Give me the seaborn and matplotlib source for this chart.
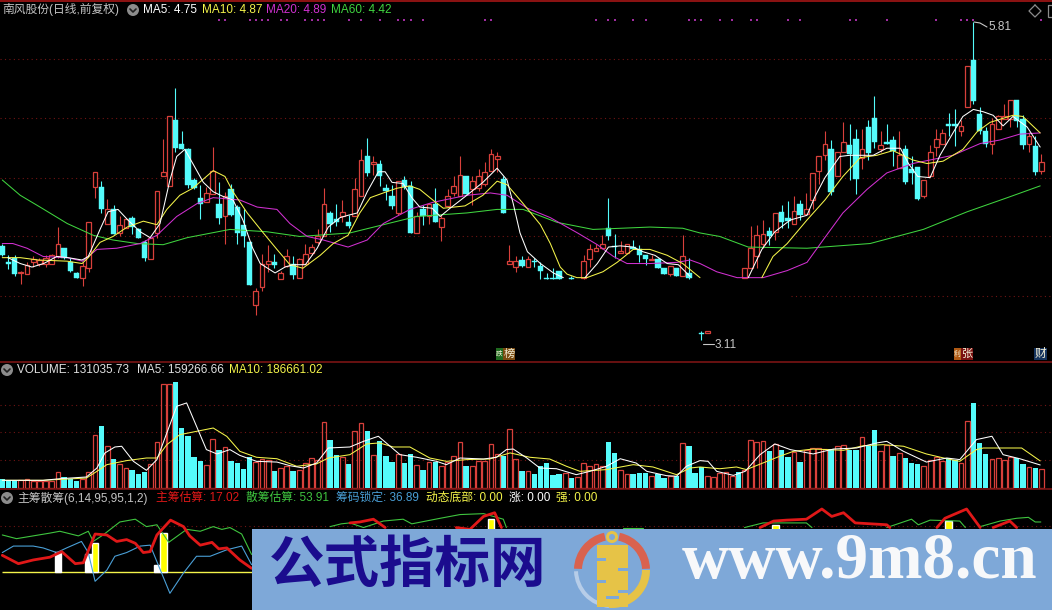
import numpy as np
import pandas as pd
import matplotlib
matplotlib.use("Agg")
import matplotlib.pyplot as plt
from matplotlib.patches import Rectangle, Wedge, Circle
import seaborn as sns

nan = float("nan")
# ---------- daily candles (prices) ----------
opens = [3.91,3.77,3.81,3.68,3.67,3.77,3.76,3.76,3.76,3.82,3.89,3.77,3.68,3.64,3.72,4.41,4.41,4.10,4.22,4.02,
 4.06,4.15,4.05,3.94,3.80,4.02,4.50,4.42,4.98,4.78,4.73,4.47,4.32,4.28,4.35,4.27,4.16,4.39,4.24,4.09,
 3.94,3.41,3.56,3.76,3.77,3.63,3.74,3.76,3.64,3.76,3.85,3.94,3.99,4.19,4.14,4.16,4.11,4.16,4.33,4.67,
 4.61,4.61,4.40,4.33,4.19,4.47,4.42,4.02,4.22,4.16,4.27,4.07,4.25,4.36,4.33,4.50,4.39,4.40,4.44,4.55,
 4.65,4.48,3.76,3.73,3.79,3.73,3.78,3.74,3.64,3.64,3.70,nan,3.64,nan,3.64,3.80,3.87,3.89,4.06,3.91,
 3.85,3.85,3.90,3.88,3.83,3.79,3.80,3.72,3.67,3.72,3.65,3.68,nan,3.17,3.17,nan,nan,nan,nan,nan,
 3.64,3.72,3.82,3.93,4.04,4.03,4.20,4.15,4.10,4.27,4.18,4.30,4.55,4.68,4.73,4.50,4.71,4.77,4.82,4.66,
 4.92,5.00,4.73,4.79,4.81,4.57,4.73,4.56,4.58,4.33,4.50,4.75,4.78,4.95,4.95,4.89,5.09,5.49,5.03,4.89,
 4.78,4.90,4.99,4.99,5.15,4.99,4.78,4.76,4.55]
closes = [3.83,3.76,3.67,3.69,3.75,3.80,3.79,3.81,3.83,3.93,3.81,3.70,3.64,3.74,4.11,4.54,4.22,4.22,4.01,4.09,
 4.14,4.07,3.98,3.81,3.98,4.38,4.54,5.01,4.74,4.73,4.43,4.40,4.27,4.36,4.55,4.15,4.33,4.17,4.02,3.99,
 3.58,3.53,3.76,3.78,3.75,3.68,3.82,3.66,3.80,3.84,3.90,3.99,4.27,4.10,4.11,4.20,4.08,4.39,4.64,4.53,
 4.62,4.50,4.38,4.25,4.46,4.41,4.02,4.16,4.16,4.27,4.11,4.15,4.33,4.42,4.51,4.35,4.46,4.50,4.54,4.69,
 4.67,4.19,3.78,3.78,3.74,3.80,3.77,3.70,3.63,3.63,3.63,nan,3.63,nan,3.78,3.88,3.89,3.93,3.99,3.90,
 3.87,3.93,3.88,3.83,3.80,3.80,3.72,3.67,3.74,3.65,3.82,3.64,nan,3.16,3.19,nan,nan,nan,nan,nan,
 3.72,3.89,4.00,4.01,3.99,4.19,4.11,4.12,4.21,4.17,4.22,4.53,4.67,4.78,4.37,4.71,4.79,4.69,4.48,4.73,
 4.70,4.79,4.77,4.78,4.72,4.68,4.45,4.53,4.31,4.47,4.71,4.82,4.87,4.93,4.93,4.93,5.44,5.14,4.89,4.78,
 4.95,5.01,5.01,5.15,4.97,4.77,4.84,4.54,4.62]
highs = [3.93,3.83,3.83,3.70,3.77,3.82,3.81,3.83,3.84,4.07,3.89,3.81,3.69,3.77,4.11,4.54,4.46,4.31,4.26,4.16,
 4.15,4.16,4.06,3.96,3.98,4.38,4.82,5.01,5.25,4.89,4.74,4.49,4.43,4.41,4.75,4.45,4.37,4.44,4.26,4.22,
 3.94,3.55,3.84,3.92,3.84,3.70,3.88,3.82,3.81,3.93,3.93,4.05,4.40,4.21,4.27,4.30,4.17,4.49,4.73,4.83,
 4.67,4.64,4.44,4.43,4.46,4.50,4.46,4.20,4.26,4.27,4.40,4.17,4.39,4.50,4.67,4.50,4.50,4.56,4.62,4.73,
 4.71,4.50,3.92,3.82,3.82,3.82,3.81,3.77,3.68,3.72,3.70,nan,3.65,nan,3.83,3.93,3.93,4.00,4.32,4.01,
 3.95,3.93,3.96,3.92,3.83,3.83,3.81,3.72,3.74,3.72,4.00,3.81,nan,3.19,3.19,nan,nan,nan,nan,nan,
 3.72,4.08,4.09,4.13,4.07,4.19,4.26,4.29,4.33,4.30,4.36,4.53,4.67,4.89,4.81,4.71,4.96,4.95,4.90,4.90,
 4.98,5.18,4.89,4.95,4.84,4.89,4.77,4.67,4.58,4.47,4.77,4.90,4.90,5.04,5.07,4.98,5.44,5.81,5.09,4.92,
 5.00,5.02,5.12,5.15,5.15,5.02,4.88,4.84,4.69]
lows = [3.82,3.71,3.65,3.59,3.67,3.73,3.74,3.73,3.76,3.81,3.80,3.69,3.64,3.57,3.69,4.32,4.19,4.10,4.01,3.99,
 4.06,4.01,3.98,3.78,3.80,3.98,4.50,4.42,4.71,4.73,4.40,4.39,4.14,4.28,4.35,4.10,3.93,4.16,3.93,3.90,
 3.58,3.32,3.53,3.69,3.72,3.63,3.73,3.63,3.64,3.76,3.83,3.93,3.99,4.03,4.08,4.11,4.06,4.16,4.33,4.50,
 4.51,4.42,4.30,4.22,4.17,4.39,4.02,4.02,4.09,4.10,4.11,3.95,4.24,4.33,4.33,4.35,4.26,4.38,4.42,4.55,
 4.54,4.19,3.76,3.69,3.73,3.73,3.73,3.63,3.63,3.63,3.63,nan,3.63,nan,3.63,3.73,3.87,3.88,3.96,3.81,
 3.85,3.85,3.88,3.77,3.75,3.79,3.72,3.67,3.65,3.65,3.65,3.63,nan,3.11,3.17,nan,nan,nan,nan,nan,
 3.64,3.72,3.72,3.89,3.92,3.96,4.06,4.06,4.10,4.13,4.18,4.22,4.44,4.64,4.34,4.50,4.71,4.47,4.35,4.56,
 4.64,4.74,4.71,4.78,4.59,4.57,4.44,4.44,4.30,4.32,4.50,4.67,4.78,4.84,4.76,4.84,5.09,5.12,4.86,4.75,
 4.69,4.90,4.99,4.92,4.92,4.73,4.71,4.51,4.52]

# ---------- price moving averages: bar position, value (nan = no visible line) ----------
ma5_x = [0.9,2.9,4.8,6.7,8.8,10.6,12.9,13.9,15.8,17.1,18.7,20.3,22.3,23.9,25.5,27.1,28.2,29.5,30.8,32.5,34.1,35.7,37.3,38.9,40.4,41.7,44.1,45.7,47,49,50.9,52.7,54.6,55.9,57.4,59,60.8,61.9,63,64.8,66.2,67.5,69.5,70.8,72.4,75.1,77.7,80,81.6,82.6,83.7,84.9,87,89.1,90.7,91,94.2,96.2,98,99.9,102,103.6,105.5,107.5,109.3,111.2,115,120.6,122.8,124.9,127.4,130.1,131.4,133,135.4,137,138.7,140.8,143,145.2,146.5,148,150,151.6,153.7,155.3,157,158.6,160.2,161.8,163.4,165.7,167.8]
ma5_y = [3.81,3.76,3.73,3.76,3.82,3.81,3.79,3.82,4.05,4.20,4.22,4.13,4.03,3.98,4.10,4.47,4.67,4.73,4.61,4.45,4.37,4.33,4.30,4.13,3.90,3.76,3.68,3.73,3.75,3.75,3.89,4.07,4.15,4.17,4.19,4.37,4.54,4.54,4.45,4.44,4.32,4.24,4.23,4.16,4.23,4.34,4.45,4.57,4.47,4.27,4.02,3.86,3.76,3.68,3.64,nan,3.64,3.76,3.90,3.91,3.90,3.86,3.83,3.76,3.75,3.65,nan,3.64,3.88,4.03,4.13,4.17,4.33,4.49,4.67,4.68,4.68,4.68,4.74,4.74,4.61,4.50,4.49,4.68,4.87,5.01,5.07,5.05,5.02,4.93,5.01,4.92,4.75]
ma10_x = [0,2.9,5.8,10.5,12.9,13.9,15.8,17.9,20.2,22.8,25,26.6,28.7,30.8,34.1,36,37.3,39.6,42.2,44.4,46.5,48.6,51.4,53.5,55.9,57.8,59.5,61.6,63.8,65.9,67.5,69.6,71.3,74.8,77.7,80,81.6,84.2,87,88.6,90.2,91.3,92.9,94.5,97.1,99.4,102,104.7,107.5,110,112.8,116,122.8,124.6,126.9,130.1,133,135.9,138.7,141.4,144,147.2,149.5,152.1,155.3,157.6,159.7,163.4,165,167.8]
ma10_y = [3.81,3.81,3.79,3.78,3.76,3.81,3.94,3.99,4.07,4.12,4.09,4.22,4.34,4.40,4.55,4.50,4.37,4.19,4.02,3.88,3.75,3.72,3.83,3.93,4.00,4.19,4.32,4.36,4.40,4.42,4.39,4.30,4.23,4.25,4.34,4.46,4.43,4.27,4.09,3.93,3.73,3.67,3.64,3.64,3.69,3.77,3.88,3.88,3.83,3.76,3.64,nan,3.64,3.82,3.93,4.13,4.30,4.50,4.66,4.68,4.72,4.64,4.61,4.63,4.73,4.88,4.96,5.02,5.01,4.87]
ma20_x = [0,1.7,4,6.6,10.5,13,15.3,18.5,22.3,25,28.2,31.5,34.1,38.4,41.2,44.4,46.5,49.3,51.9,55.9,59,61.6,65.9,69.6,75.1,78.9,81.6,84.9,88.6,93,96.2,98.8,101,104.7,109.1,111.2,112.8,115.5,118.8,123,126.9,130.1,132.7,135.9,139.8,143,147.2,153.7,158.1,161.3,164.5,167.8]
ma20_y = [3.93,3.93,3.89,3.82,3.81,3.78,3.88,3.89,3.93,4.00,4.16,4.27,4.32,4.30,4.24,4.22,4.10,3.99,3.96,3.90,3.96,4.10,4.22,4.28,4.34,4.36,4.34,4.23,4.15,4.02,3.92,3.82,3.76,3.76,3.77,3.79,3.76,3.69,3.64,3.64,3.70,3.77,3.96,4.19,4.39,4.53,4.61,4.68,4.78,4.81,4.86,4.87]
ma60_x = [0,2.9,6.1,10.5,14.7,17.9,21.8,26,29.9,36.8,42.8,48.1,56.2,61.6,67,75.1,80,84.2,89.7,95.5,104.7,110,112.8,116,120.6,130.1,140.3,148.9,156,162.5,167.8]
ma60_y = [4.47,4.34,4.24,4.10,4.00,3.96,3.93,3.92,3.98,4.05,4.03,3.99,4.02,4.09,4.16,4.19,4.22,4.22,4.11,4.05,4.07,4.06,4.02,3.99,3.90,3.89,3.93,4.05,4.20,4.32,4.42]
signal_bars = [35,36,40,41,42,43,45,46,49,50,51,52,56,58,61,64,65,66,68,78,79,96,98,99,102,104,111,112,113,116,118,121,122,127,129,137,138,143,151,155,156,157,168]
signal_level = 5.83
price_grid = [5.50,5.00,4.49,3.99]
price_grid_low = 3.48

# ---------- volume (thousands) ----------
volume = [62,57,57,57,62,46,46,46,50,110,76,62,50,64,110,366,430,288,202,166,
 138,126,99,110,166,317,718,718,734,414,356,214,184,159,338,264,283,189,172,133,
 214,177,200,196,120,138,150,120,126,172,207,196,455,334,230,214,168,396,449,396,
 230,327,223,182,237,175,237,159,126,177,182,154,177,221,317,154,154,189,189,304,
 235,219,407,200,120,117,97,150,175,92,99,104,71,76,172,150,166,154,320,242,
 124,97,97,106,104,85,97,71,85,81,310,292,106,145,83,76,104,108,85,110,
 126,331,317,324,258,304,264,216,248,182,264,276,276,269,269,288,297,260,260,352,
 292,402,255,297,223,242,209,175,168,154,196,212,189,207,196,172,465,589,310,237,
 200,207,193,212,207,168,145,138,131]
vol_side = ("CCCRRRRRRR" "CCCRRRCRCR" "RCCCRRRRCC" "CCCRRCRCCC" "CRRRCRRCRR" "RRRCCRCRRC"
            "RCCCRCCRCR" "CRRRRCRRRR" "RCRRCRCCCC" "CRCRRRRRCC" "RRCCCRCCRC" "RCCCRRRRRC"
            "RRRRCRCCRC" "RRRRCRRCCR" "CCRRCRCCCR" "RRRCCRRCCC" "RRRRCCRCR")
vol_ma5_x = [0,6.6,9.3,13.6,15.3,16.6,18.2,19.3,21.2,23.3,25,26.6,28.2,29.8,31.4,33,34.7,36.8,38.4,41.1,44.4,46.5,48.7,50.8,52.7,56.2,58.4,60.8,62.7,64.3,67,70.2,71.8,74,77.8,79.9,81.5,82.6,84.8,86.9,89.6,92.8,95,97.7,99.9,102.5,104.2,107.4,109,110.6,112.8,114.1,115.5,118.2,120.1,122.5,124.9,127.4,131.1,134.4,138.1,141.4,143,145.7,149.4,152.7,154.8,157.5,160,161.8,164.5,167.8]
vol_ma5_y = [53,53,64,76,138,242,283,288,184,122,196,380,564,587,426,265,235,265,225,184,179,154,138,172,276,283,322,357,288,230,212,184,161,207,200,212,265,269,207,138,133,92,115,150,202,172,115,85,81,150,189,184,115,87,115,230,304,265,235,269,276,311,322,253,179,207,196,334,357,230,202,159]
vol_ma10_x = [0,6.6,13.6,15.3,16.9,20.1,23.3,25,26.6,28.7,32,34.1,36.3,38.4,41.1,44.4,47.6,50.8,52.7,56.2,58.9,61,63.2,65.9,69.1,71.8,75.1,78.8,82.1,85.3,88.5,91.2,93.4,97.7,102,105.2,109,111.2,112.8,116,118.7,120.3,123,125.7,127.9,131.1,136,139.2,142.4,145.7,149.4,152.7,154.8,157.5,158.6,164.8,167.8]
vol_ma10_y = [53,53,69,115,161,189,207,207,299,368,396,414,356,253,212,202,150,166,207,230,304,311,283,283,207,184,196,200,242,212,200,150,115,127,161,145,92,138,145,133,145,127,173,219,253,269,260,292,299,288,235,202,184,265,276,276,187]
vol_grid = [573,386,193]

# ---------- chip indicator ----------
main_x = [0,2.6,5,7.7,9.6,11.8,13.1,15,16.9,18.5,20.1,21.5,22.8,23.9,25,27.2,29.3,30.3,32,33.9,35,36.3,38.4,40.3,45,56.2,57.8,60,61.9,70,73.4,75.6,77.8,79.6,80.7,100,122.5,124.7,126.8,130,132.5,134.1,136,137.9,143,143.5,148,151.1,152.4,155.9,158.1,159,160.2,162.9,164]
main_y = [18,9,13,16,22,9,10,41,40,33,35,31,21,22,40,56,49,39,29,32,25,26,13,4,nan,53,54,57,48,nan,48,46,60,64,48,nan,48,55,56,57,68,60,64,53,51,48,nan,48,58,68,48,nan,48,55,48]
float_x = [0,2.3,5,7.7,9.3,12.3,13.9,14.7,16.3,19,21.5,23.3,25,26.9,29.8,32,34.1,35.5,36.8,38.7,40.3,45,53,54.8,56.2,58.4,61.6,64.8,66.2,70.8,74,77.8,81,81.5,90,100.4,103.6,110,120,123,130,130.9,135,143,147,148.1,150,154.8,155.7,157,158.1,161.3,164,165.9,167,167.9]
float_y = [40,36,39,42,44,39,44,33,40,54,57,49,51,32,46,44,49,46,48,41,19,nan,49,52,53,48,55,57,52,58,62,63,57,48,nan,48,48,nan,48,53,53,48,nan,48,57,51,56,55,48,nan,49,55,58,59,54,54]
lock_x = [0,1.8,5,6.6,8.8,10.4,12.8,13.9,15,16.9,18.2,20.1,22.3,23.9,25.5,27.1,29.3,31.4,33.6,36.3,38.7,40.3]
lock_y = [21,28,28,26,21,26,33,21,-10,2,17,21,28,29,3,-23,-1,17,17,24,28,8]
white_bars_x = [9,14,25]
white_bars_y = [22,19,8]
yellow_bars_x = [15,26,79,125,153]
yellow_bars_y = [31,42,57,51,55]
chip_grid = [50]

RED, CYAN = "#d8403b", "#54fbfb"
GRID = "#701414"
W, H = 1052, 610
LAT = ["Liberation Sans", "Noto Sans CJK SC"]

sns.set_theme(style="dark", rc={"axes.facecolor": "black", "figure.facecolor": "black",
                                "savefig.facecolor": "black", "axes.grid": False})
plt.rcParams["font.family"] = LAT

fig = plt.figure(figsize=(W / 100, H / 100), dpi=100)

def pane(top, bottom, ylim):
    ax = fig.add_axes([0, 1 - bottom / H, 1, (bottom - top) / H])
    ax.set_facecolor("black")
    ax.set_axis_off()
    return ax, ylim

XLIM = (-0.372, 169.71)

def line(ax, xs, ys, color, lw=0.75, z=3):
    df = pd.DataFrame({"x": xs, "y": ys})
    df["seg"] = df["y"].isna().cumsum()
    for _, g in df.dropna().groupby("seg"):
        sns.lineplot(data=g, x="x", y="y", color=color, linewidth=lw, sort=False,
                     estimator=None, errorbar=None, legend=False, ax=ax, zorder=z)

# ------ price pane ------
ax1, yl1 = pane(2, 362, (2.923, 5.983))
for g in price_grid:
    ax1.hlines(g, *XLIM, color=GRID, lw=0.8, linestyles=(0, (1, 3)), zorder=1)
ax1.hlines(price_grid_low, XLIM[0], 42, color=GRID, lw=0.8, linestyles=(0, (1, 3)), zorder=1)
ax1.hlines(price_grid_low, 127.5, XLIM[1], color=GRID, lw=0.8, linestyles=(0, (1, 3)), zorder=1)
o, c, h, l = map(np.array, (opens, closes, highs, lows))
x = np.arange(len(o))
up = c >= o
top_, bot_ = np.maximum(o, c), np.minimum(o, c)
ax1.vlines(x[up], top_[up], h[up], color=RED, lw=0.8, zorder=2)
ax1.vlines(x[up], l[up], bot_[up], color=RED, lw=0.8, zorder=2)
dn = c < o
ax1.vlines(x[dn], l[dn], h[dn], color=CYAN, lw=0.8, zorder=2)
ax1.bar(x[up], (c - o)[up], bottom=o[up], width=0.78, facecolor="black", edgecolor=RED, linewidth=0.9, zorder=2.1)
ax1.bar(x[dn], (c - o)[dn], bottom=o[dn], width=0.88, facecolor=CYAN, edgecolor=CYAN, linewidth=0.3, zorder=2.1)
line(ax1, ma60_x, ma60_y, "#3fd43f")
line(ax1, ma20_x, ma20_y, "#d030d0")
line(ax1, ma10_x, ma10_y, "#f4f44a")
line(ax1, ma5_x, ma5_y, "#ffffff")
ax1.scatter(signal_bars, [signal_level] * len(signal_bars), marker="s", s=4, color="#a02ca0", linewidths=0, zorder=3)
ax1.set_xlim(*XLIM); ax1.set_ylim(*yl1)
ax1.set_xlabel(""); ax1.set_ylabel("")

# ------ volume pane ------
ax2, yl2 = pane(362, 489, (-6.9, 869.4))
for g in vol_grid:
    ax2.hlines(g, *XLIM, color=GRID, lw=0.8, linestyles=(0, (1, 3)), zorder=1)
vx = np.arange(len(volume))
vol = np.array(volume, dtype=float)
side = np.array(list(vol_side))
sns.barplot(x=vx[side == "C"], y=vol[side == "C"], native_scale=True, width=0.88, color=CYAN,
            saturation=1, errorbar=None, linewidth=0, ax=ax2, zorder=2)
sns.barplot(x=vx[side == "R"], y=vol[side == "R"], native_scale=True, width=0.78, color=RED,
            saturation=1, errorbar=None, fill=False, linewidth=0.9, ax=ax2, zorder=2)
line(ax2, vol_ma10_x, vol_ma10_y, "#f4f44a")
line(ax2, vol_ma5_x, vol_ma5_y, "#ffffff")
ax2.set_xlim(*XLIM); ax2.set_ylim(*yl2)
ax2.set_xlabel(""); ax2.set_ylabel(""); ax2.set_axis_off()

# ------ chip pane ------
ax3, yl3 = pane(489, 610, (-41.0, 89.6))
for g in chip_grid:
    ax3.hlines(g, *XLIM, color=GRID, lw=0.8, linestyles=(0, (1, 3)), zorder=1)
ax3.hlines(0, 0, 168, color="#f4f44a", lw=1.0, zorder=2)
ax3.bar(white_bars_x, white_bars_y, width=1.1, color="white", zorder=2.2)
ax3.bar(yellow_bars_x, yellow_bars_y, width=1.1, color="#ffff00", zorder=2.2)
line(ax3, lock_x, lock_y, "#4a9fd6", lw=0.8)
line(ax3, float_x, float_y, "#3fc43f", lw=0.8)
line(ax3, main_x, main_y, "#e01818", lw=2.0, z=4)
ax3.set_xlim(*XLIM); ax3.set_ylim(*yl3)
ax3.set_xlabel(""); ax3.set_ylabel(""); ax3.set_axis_off()

# ------ overlay in picture pixels: labels, rules, tags, banner ------
ov = fig.add_axes([0, 0, 1, 1], facecolor="none")
ov.set_xlim(0, W); ov.set_ylim(H, 0); ov.set_axis_off()
ov.add_patch(Rectangle((0, 0), W, 2, color="#8a1212", lw=0))
ov.hlines([362, 489], 0, W, color="#7a1414", lw=1.2)

def label(px, py, s, col, size=8.5, **kw):
    ov.text(px, py, s, color=col, fontsize=size, va="center", ha="left", family=LAT, **kw)

def chevron(px, py):
    ov.add_patch(Circle((px, py), 6, color="#8c8c8c", lw=0))
    ov.plot([px - 3, px, px + 3], [py - 1, py + 2, py - 1], color="#202020", lw=1.2)

label(2, 10, "南风股份(日线,前复权)", "#c4c4c4")
chevron(133, 10)
label(143, 10, "MA5: 4.75", "#ffffff")
label(202, 10, "MA10: 4.87", "#f4f44a")
label(266, 10, "MA20: 4.89", "#d030d0")
label(331, 10, "MA60: 4.42", "#3fd43f")
chevron(7, 370)
label(17, 370, "VOLUME: 131035.73", "#e0e0e0")
label(137, 370, "MA5: 159266.66", "#e0e0e0")
label(229, 370, "MA10: 186661.02", "#f4f44a")
chevron(7, 498)
label(17, 498, "主筹散筹(6,14,95,95,1,2)", "#c4c4c4")
label(156, 498, "主筹估算: 17.02", "#e01818")
label(246, 498, "散筹估算: 53.91", "#3fc43f")
label(336, 498, "筹码锁定: 36.89", "#4a9fd6")
label(426, 498, "动态底部: 0.00", "#f4f44a")
label(509, 498, "涨: 0.00", "#ffffff")
label(556, 498, "强: 0.00", "#f4f44a")

# extreme labels
ov.plot([974, 980, 987], [22, 23, 27], color="#c8c8c8", lw=0.8)
label(988, 27, "5.81", "#c8c8c8")
ov.plot([703, 714], [344, 344], color="#c8c8c8", lw=0.8)
label(715, 345, "3.11", "#c8c8c8")

# top-right icons
ov.plot([1035, 1041, 1035, 1029, 1035], [5, 11, 17, 11, 5], color="#8c8c8c", lw=0.9)
ov.add_patch(Rectangle((1048, 5), 8, 12, fill=False, edgecolor="#8c8c8c", lw=0.9))

# event tags
def tag(x0, x1, bg, s, size=8.5):
    ov.add_patch(Rectangle((x0, 348), x1 - x0, 12, color=bg, lw=0))
    ov.text((x0 + x1) / 2, 354, s, color="#f4f0d8", fontsize=size, ha="center", va="center", family=LAT)
tag(496, 503, "#1f6a1f", "跌", 4.8)
tag(503, 515, "#7a4a10", "榜", 8)
tag(954, 961, "#b05a14", "利", 4.8)
tag(961, 973, "#7a1010", "张", 8)
tag(1034, 1047, "#16345e", "财", 8.5)

# watermark banner
BAN = "#7ea8d8"
ov.add_patch(Rectangle((252, 529), W - 252, H - 529, color=BAN, lw=0, zorder=10))
ov.text(408, 566, "公式指标网", color="#1b0c8e", fontsize=40, fontweight="bold", ha="center", va="center",
        family=["Noto Sans CJK SC"], zorder=11)
ov.text(682, 562, "www.9m8.cn", color="#f7f8fa", fontsize=47, fontweight="bold", ha="left", va="center",
        family=["Liberation Serif"], zorder=11)
cx, cy = 612, 570
YEL = "#e6c347"
ov.add_patch(Wedge((cx, cy), 38, 182, 258, width=8, color="#d9624f", lw=0, zorder=11))
ov.add_patch(Wedge((cx, cy), 38, 282, 358, width=8, color="#d9624f", lw=0, zorder=11))
ov.add_patch(Wedge((cx, cy), 38, 0, 95, width=8, color=YEL, lw=0, zorder=11))
ov.add_patch(Wedge((cx, cy), 38, 95, 178, width=4, color="#b7cde8", lw=0, zorder=11))
ov.add_patch(Rectangle((597, 545), 31, 62, color=YEL, lw=0, zorder=12))
ov.add_patch(Circle((cx, 537), 6, color=YEL, lw=0, zorder=12))
ov.add_patch(Circle((cx, 537), 3, color=BAN, lw=0, zorder=13))
for yy, xa, xb in [(558, 597, 606), (568, 618, 628), (580, 597, 606), (590, 618, 628), (596, 606, 619)]:
    ov.add_patch(Rectangle((xa, yy), xb - xa, 3, color=BAN, lw=0, zorder=13))

fig.savefig("out.png", dpi=100, facecolor="black")
